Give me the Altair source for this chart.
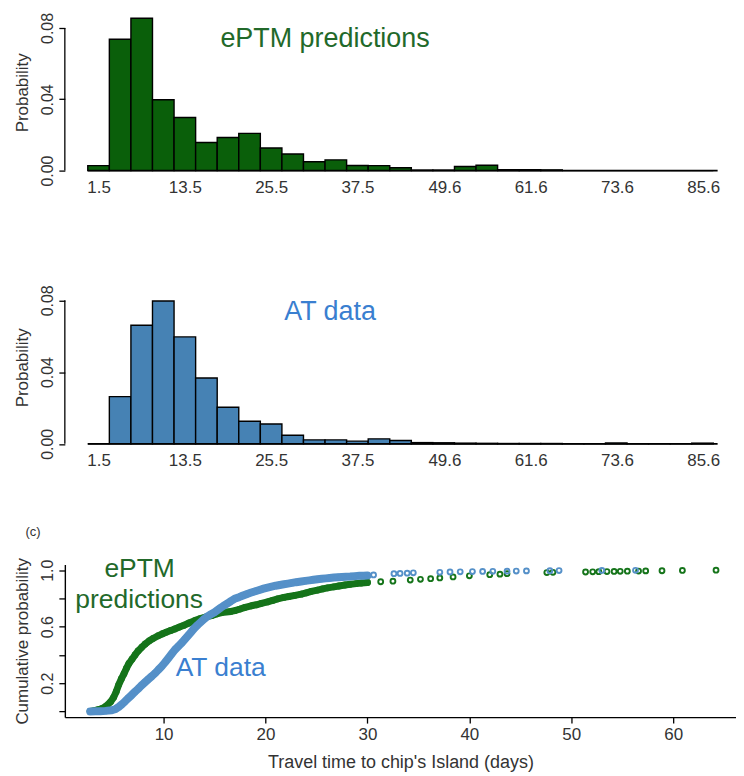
import altair as alt
import pandas as pd

FONT = "Liberation Sans"

# ---------------- histogram data (3-day bins) ----------------
bin_starts = [0, 3, 6, 9, 12, 15, 18, 21, 24, 27, 30, 33, 36, 39, 42, 45, 48, 51, 54, 57,
              60, 63, 66, 69, 72, 75, 78, 81, 84]
bin_ends = [3, 6, 9, 12, 15, 18, 21, 24, 27, 30, 33, 36, 39, 42, 45, 48, 51, 54, 57, 60,
            63, 66, 69, 72, 75, 78, 81, 84, 87]
eptm_prob = [0.0028, 0.0737, 0.0854, 0.0397, 0.0298, 0.0158, 0.0186, 0.0209, 0.0127, 0.0093,
             0.0050, 0.0060, 0.0029, 0.0028, 0.0016, 0.0003, 0.0003, 0.0023, 0.0030, 0.0005,
             0.0005, 0.0004, 0.0, 0.0, 0.0, 0.0, 0.0, 0.0, 0.0]
at_prob = [0.0, 0.0263, 0.0661, 0.0796, 0.0596, 0.0367, 0.0204, 0.0126, 0.0111, 0.0048,
           0.0022, 0.0022, 0.0015, 0.0028, 0.0019, 0.0007, 0.0006, 0.0004, 0.0003, 0.0002,
           0.0002, 0.0002, 0.0001, 0.0001, 0.0005, 0.0001, 0.0001, 0.0001, 0.0004]
hist_x_ticks = [1.5, 13.5, 25.5, 37.5, 49.6, 61.6, 73.6, 85.6]
hist_y_ticks = [0, 0.02, 0.04, 0.06, 0.08]

# ---------------- cumulative distribution points ----------------
eptm_t = [2.8, 3.2, 3.6, 4.0, 4.4, 4.8, 5.1, 5.35, 5.6, 5.85, 6.1, 6.35, 6.6, 6.9, 7.2, 7.5,
          7.85, 8.2, 8.6, 9.0, 9.5, 9.9, 10.3, 10.7, 11.1, 11.55, 12.0, 12.5, 13.05, 13.6,
          14.1, 14.7, 15.2, 15.7, 16.6, 17.0, 17.5, 18.0, 18.6, 19.1, 19.6, 20.2, 20.7, 21.2,
          21.8, 22.3, 22.9, 23.5, 24.0, 24.5, 25.1, 25.6, 26.1, 26.7, 27.2, 27.8, 28.3, 28.9,
          29.4, 30.0, 31.3, 32.5, 34.2, 35.2, 36.2, 37.1, 38.4, 40.0, 42.0, 43.0, 43.7, 47.6,
          48.2, 51.4, 52.1, 52.7, 53.5, 54.2, 54.8, 55.5, 56.6, 57.3, 58.9, 60.9, 64.2]
eptm_p = [0.000, 0.005, 0.012, 0.022, 0.040, 0.068, 0.100, 0.140, 0.190, 0.230, 0.265, 0.305,
          0.340, 0.370, 0.400, 0.428, 0.454, 0.478, 0.500, 0.518, 0.537, 0.550, 0.562, 0.573,
          0.584, 0.597, 0.610, 0.626, 0.643, 0.657, 0.668, 0.678, 0.690, 0.700, 0.708, 0.714,
          0.725, 0.737, 0.748, 0.755, 0.765, 0.775, 0.786, 0.797, 0.807, 0.814, 0.822, 0.830,
          0.840, 0.850, 0.859, 0.867, 0.875, 0.882, 0.888, 0.895, 0.900, 0.905, 0.909, 0.913,
          0.918, 0.922, 0.930, 0.935, 0.940, 0.945, 0.952, 0.960, 0.968, 0.972, 0.975, 0.983,
          0.985, 0.987, 0.988, 0.989, 0.990, 0.991, 0.992, 0.993, 0.994, 0.995, 0.996, 0.998,
          1.000]
at_t = [2.8, 3.3, 3.8, 4.3, 4.9, 5.3, 5.6, 5.9, 6.2, 6.5, 6.85, 7.2, 7.5, 7.8, 8.15, 8.5, 8.85,
        9.2, 9.5, 9.8, 10.15, 10.5, 10.8, 11.1, 11.45, 11.8, 12.1, 12.4, 12.7, 13.0, 13.35,
        13.7, 14.0, 14.3, 14.65, 15.0, 15.3, 15.6, 15.95, 16.3, 16.6, 16.96, 17.4, 17.8, 18.2,
        18.6, 19.0, 19.4, 19.8, 20.2, 20.6, 21.0, 21.4, 21.8, 22.2, 22.6, 23.0, 23.5, 23.9,
        24.3, 24.7, 25.1, 25.5, 25.9, 26.3, 26.7, 27.1, 27.5, 27.9, 28.3, 28.8, 29.2, 29.6,
        30.0, 30.6, 32.6, 33.2, 33.9, 34.5, 37.1, 38.1, 39.1, 40.3, 41.3, 42.3, 43.7, 44.6,
        45.6, 47.9, 48.8, 53.0, 56.3]
at_p = [0.000, 0.001, 0.002, 0.004, 0.008, 0.018, 0.032, 0.050, 0.070, 0.092, 0.115, 0.140,
        0.160, 0.182, 0.205, 0.228, 0.250, 0.273, 0.296, 0.318, 0.348, 0.380, 0.408, 0.436,
        0.462, 0.487, 0.512, 0.537, 0.562, 0.588, 0.613, 0.636, 0.656, 0.673, 0.688, 0.702,
        0.718, 0.734, 0.750, 0.766, 0.781, 0.797, 0.809, 0.821, 0.832, 0.842, 0.851, 0.860,
        0.869, 0.877, 0.884, 0.890, 0.895, 0.900, 0.905, 0.910, 0.915, 0.920, 0.924, 0.928,
        0.932, 0.936, 0.939, 0.942, 0.945, 0.948, 0.950, 0.952, 0.954, 0.955, 0.958, 0.960,
        0.961, 0.962, 0.966, 0.975, 0.977, 0.979, 0.981, 0.985, 0.987, 0.988, 0.990, 0.991,
        0.992, 0.993, 0.994, 0.995, 0.996, 0.997, 0.998, 0.999]
cdf_x_ticks = [10, 20, 30, 40, 50, 60]
cdf_y_ticks = [0, 0.2, 0.4, 0.6, 0.8, 1.0]

GREEN_BAR = "#0a5f0a"
BLUE_BAR = "#4682b4"
GREEN_TXT = "#22692a"
BLUE_TXT = "#3a7fd0"
GREEN_PT = "#15741a"
BLUE_PT = "#5590c8"


def hist_panel(probs, color, label, label_color, label_x, label_y, ymax, height):
    df = pd.DataFrame({"start": bin_starts, "end": bin_ends, "prob": probs})
    xscale = alt.Scale(domain=[-3.19, 87.66], nice=False, zero=False)
    yscale = alt.Scale(domain=[0, ymax], nice=False)
    bars = alt.Chart(df).mark_bar(color=color, stroke="black", strokeWidth=1.4).encode(
        x=alt.X("start:Q", scale=xscale,
                axis=alt.Axis(values=hist_x_ticks, labelExpr="format(datum.value, '.1f')",
                              ticks=False, tickSize=0, domain=False, grid=False,
                              labelPadding=9, labelFontSize=17, labelColor="#333",
                              labelFont=FONT, labelFlush=False, labelOverlap=False,
                              title=None)),
        x2="end:Q",
        y=alt.Y("prob:Q", scale=yscale,
                axis=alt.Axis(values=hist_y_ticks,
                              labelExpr="indexof(['0.00','0.04','0.08'], format(datum.value,'.2f')) >= 0 ? format(datum.value,'.2f') : ''",
                              domain=False, grid=False, tickSize=6, tickColor="black",
                              tickWidth=1.3, labelAngle=-90, labelFontSize=16,
                              labelOverlap=False,
                              labelColor="#333", labelFont=FONT, labelPadding=3,
                              title="Probability", titleFontSize=17, titleFont=FONT,
                              titleFontWeight="normal", titleColor="#333", titlePadding=8)),
        y2=alt.datum(0),
    )
    yline = alt.Chart(pd.DataFrame({"y0": [0.0], "y1": [0.08]})).mark_rule(
        color="black", strokeWidth=1.3).encode(
        x=alt.value(0), y=alt.Y("y0:Q", scale=yscale), y2="y1:Q")
    xline = alt.Chart(pd.DataFrame({"x0": [0.0], "x1": [87.6], "y": [0.0]})).mark_rule(
        color="black", strokeWidth=1.6).encode(
        x=alt.X("x0:Q", scale=xscale), x2="x1:Q", y=alt.Y("y:Q", scale=yscale))
    txt = alt.Chart(pd.DataFrame({"x": [label_x], "y": [label_y], "t": [label]})).mark_text(
        fontSize=27, font=FONT, color=label_color, align="center", baseline="middle").encode(
        x=alt.X("x:Q", scale=xscale), y=alt.Y("y:Q", scale=yscale), text="t:N")
    return alt.layer(bars, xline, yline, txt).properties(width=655, height=height)


top = hist_panel(eptm_prob, GREEN_BAR, "ePTM predictions", GREEN_TXT, 33.0, 0.0738, 0.0878, 157)
mid = hist_panel(at_prob, BLUE_BAR, "AT data", BLUE_TXT, 33.7, 0.0735, 0.0853, 153.5)

# ---------------- cumulative panel ----------------
cx = alt.Scale(domain=[0.31, 66.16], nice=False, zero=False)
cy = alt.Scale(domain=[-0.04, 1.04], nice=False, zero=False)

eptm_df = pd.DataFrame({"t": eptm_t, "p": eptm_p})
at_df = pd.DataFrame({"t": at_t, "p": at_p})

x_enc = alt.X("t:Q", scale=cx,
              axis=alt.Axis(values=cdf_x_ticks, format="d", grid=False, domainColor="black",
                            domainWidth=1.4, tickColor="black", tickWidth=1.3, tickSize=6,
                            labelFontSize=17, labelColor="#333", labelFont=FONT,
                            labelPadding=3, labelOverlap=False,
                            title="Travel time to chip's Island (days)",
                            titleFontSize=18, titleFont=FONT, titleFontWeight="normal",
                            titleColor="#333", titlePadding=12))
y_enc = alt.Y("p:Q", scale=cy,
              axis=alt.Axis(values=cdf_y_ticks,
                            labelExpr="indexof(['0.2','0.6','1.0'], format(datum.value,'.1f')) >= 0 ? format(datum.value,'.1f') : ''",
                            grid=False, domainColor="black", domainWidth=1.4,
                            tickColor="black", tickWidth=1.3, tickSize=6, labelAngle=-90,
                            labelOverlap=False,
                            labelFontSize=16, labelColor="#333", labelFont=FONT,
                            labelPadding=3, title="Cumulative probability", titleFontSize=17,
                            titleFont=FONT, titleFontWeight="normal", titleColor="#333",
                            titlePadding=8))

g_line = alt.Chart(eptm_df).transform_filter("datum.t <= 30.5").mark_line(
    color=GREEN_PT, strokeWidth=7, strokeCap="round", strokeJoin="round").encode(x=x_enc, y=y_enc)
g_pts = alt.Chart(eptm_df).mark_point(filled=False, color=GREEN_PT, size=24, strokeWidth=1.9,
                                      opacity=1).encode(x=x_enc, y=y_enc)
b_line = alt.Chart(at_df).transform_filter("datum.t <= 30.5").mark_line(
    color=BLUE_PT, strokeWidth=8, strokeCap="round", strokeJoin="round").encode(x=x_enc, y=y_enc)
b_pts = alt.Chart(at_df).mark_point(filled=False, color=BLUE_PT, size=24, strokeWidth=1.9,
                                    opacity=1).encode(x=x_enc, y=y_enc)

ann_df = pd.DataFrame({"t": [7.65, 7.6, 15.6], "p": [1.007, 0.788, 0.308],
                       "label": ["ePTM", "predictions", "AT data"],
                       "who": ["e", "e", "a"]})
ann = alt.Chart(ann_df).mark_text(fontSize=26.5, font=FONT, align="center",
                                  baseline="middle").encode(
    x=x_enc, y=y_enc, text="label:N",
    color=alt.Color("who:N", scale=alt.Scale(domain=["e", "a"], range=[GREEN_TXT, BLUE_TXT]),
                    legend=None))
tag = alt.Chart(pd.DataFrame({"s": ["(c)"]})).mark_text(
    fontSize=13, font=FONT, color="#333", align="center", baseline="middle").encode(
    x=alt.value(-32), y=alt.value(-33), text="s:N")

bottom = alt.layer(g_line, g_pts, b_line, b_pts, ann, tag).properties(width=673, height=153)

chart = alt.vconcat(top, mid, bottom, spacing=120.5, bounds="flush").properties(
    padding={"left": 5, "top": 3, "right": 0, "bottom": 0}
).configure(font=FONT, view=alt.ViewConfig(stroke=None))

chart.save("out.html", embed_options={"renderer": "svg", "actions": False})
